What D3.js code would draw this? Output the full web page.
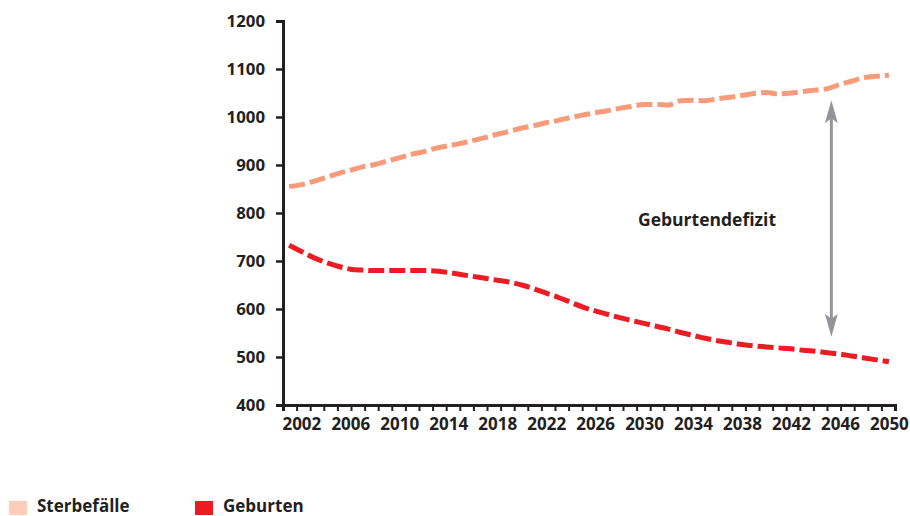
<!DOCTYPE html>
<html><head><meta charset="utf-8">
<script src="https://cdn.jsdelivr.net/npm/d3@7"></script>
<style>
html,body{margin:0;padding:0;background:#fff;}
svg{display:block;font-family:"Open Sans","Noto Sans",sans-serif;}
</style></head>
<body><svg id="c" width="910" height="516"></svg>
<script>
const years = d3.range(2001, 2051);
const sterbefaelle = [855,859,866,874,882,889,896,901,908,915,922,928,935,940,945,951,957,964,970,977,982,988,993,999,1004,1009,1013,1018,1022,1026,1026,1025,1034,1035,1034,1038,1041,1045,1049,1051,1048,1050,1053,1056,1059,1068,1075,1082,1085,1087];
const geburten = [733,720,707,697,689,683,681,680,680,680,680,680,679,676,672,668,664,660,656,650,642,633,624,614,604,596,589,582,576,570,564,558,551,545,539,534,530,526,523,521,519,517,514,512,509,506,502,498,494,490];
const xTickLabels = [2002,2006,2010,2014,2018,2022,2026,2030,2034,2038,2042,2046,2050];
const yTickLabels = [400,500,600,700,800,900,1000,1100,1200];
const seriesNames = ["Sterbefälle","Geburten"];
const annotation = {label:"Geburtendefizit", year:2045.3, from:542, to:1035};

const svg = d3.select("#c");
const ink = "#231f20";
const x = d3.scaleLinear().domain([2000.5, 2050.5]).range([283, 895]);
const y = d3.scaleLinear().domain([400, 1200]).range([405, 21]);

// y axis
const yAxis = d3.axisLeft(y).tickValues(yTickLabels).tickSize(7).tickPadding(11).tickFormat(d3.format("d"));
const gy = svg.append("g").attr("transform","translate(283,0)").call(yAxis);
gy.select(".domain").attr("stroke",ink).attr("stroke-width",3);
gy.selectAll(".tick line").attr("stroke",ink).attr("stroke-width",2.5);
gy.selectAll(".tick text").attr("fill",ink).attr("font-size",16.8).attr("font-weight",700)
  .attr("font-family",'"Open Sans",sans-serif');

// x axis minor ticks
const minor = d3.range(46).map(i => 2000.5 + i*50/45);
const xAxisMinor = d3.axisBottom(x).tickValues(minor).tickSize(6).tickFormat("");
const gxm = svg.append("g").attr("transform","translate(0,405)").call(xAxisMinor);
gxm.select(".domain").attr("stroke",ink).attr("stroke-width",3);
gxm.selectAll(".tick line").attr("stroke",ink).attr("stroke-width",2);

// x labels
const xAxis = d3.axisBottom(x).tickValues(xTickLabels).tickSize(0).tickPadding(13).tickFormat(d3.format("d"));
const gx = svg.append("g").attr("transform","translate(0,405)").call(xAxis);
gx.select(".domain").remove();
gx.selectAll(".tick text").attr("fill",ink).attr("font-size",17).attr("font-weight",700)
  .attr("font-family",'"Open Sans",sans-serif');

// lines
const line = d3.line().x((d,i)=>x(years[i])).y(d=>y(d)).curve(d3.curveMonotoneX);
svg.append("path").datum(sterbefaelle).attr("d",line).attr("fill","none")
  .attr("stroke","#f79b7b").attr("stroke-width",5).attr("stroke-dasharray","16,5");
svg.append("path").datum(geburten).attr("d",line).attr("fill","none")
  .attr("stroke","#ed1c24").attr("stroke-width",5).attr("stroke-dasharray","16,5");

// arrow
const ax = x(annotation.year);
svg.append("line").attr("x1",ax).attr("x2",ax).attr("y1",y(annotation.to)+10).attr("y2",y(annotation.from)-10)
  .attr("stroke","#939598").attr("stroke-width",3);
const head = (tipY, dir) => `M${ax},${tipY} L${ax-6.5},${tipY+dir*23} L${ax},${tipY+dir*18} L${ax+6.5},${tipY+dir*23} Z`;
svg.append("path").attr("d",head(y(annotation.to),1)).attr("fill","#939598");
svg.append("path").attr("d",head(y(annotation.from),-1)).attr("fill","#939598");

svg.append("text").attr("x",707).attr("y",226).attr("text-anchor","middle")
  .attr("font-size",17.5).attr("font-weight",700).attr("fill",ink).text(annotation.label);

// legend
const legColors = ["#fdcdb9","#ed1c24"];
const legX = [9,195];
seriesNames.forEach((n,i)=>{
  svg.append("rect").attr("x",legX[i]).attr("y",501).attr("width",18).attr("height",14).attr("fill",legColors[i]);
  svg.append("text").attr("x",legX[i]+28).attr("y",512).attr("font-size",17).attr("font-weight",700)
    .attr("fill",ink).text(n);
});
</script></body></html>
